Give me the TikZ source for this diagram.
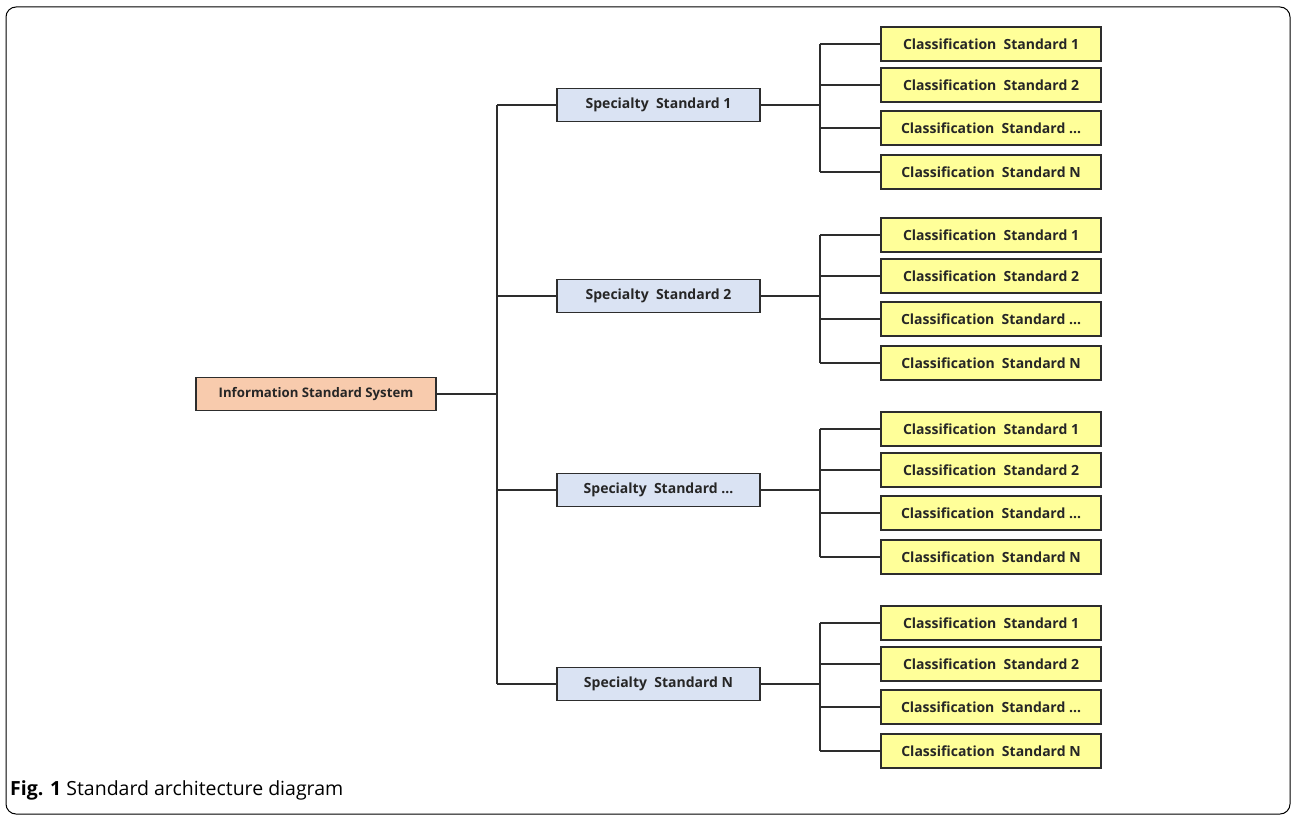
\documentclass[tikz,border=0pt]{standalone}
\usepackage{fontspec}
\setmainfont{Open Sans}
\setsansfont{Open Sans}
\definecolor{peach}{RGB}{248,203,173}
\definecolor{lblue}{RGB}{218,227,243}
\definecolor{lyellow}{RGB}{255,255,153}
\definecolor{edge}{RGB}{45,45,45}
\begin{document}
\begin{tikzpicture}[x=1pt,y=-1pt,
  box/.style={draw=edge,line width=1.3pt,minimum height=33pt,inner sep=0pt,font=\sffamily\bfseries\fontsize{14}{16}\selectfont,text=black!85},
  infobox/.style={box,fill=peach,minimum width=240pt,font=\sffamily\bfseries\fontsize{13.2}{16}\selectfont},
  specbox/.style={box,fill=lblue,minimum width=203pt},
  clsbox/.style={box,fill=lyellow,minimum width=220pt,minimum height=34pt},
  conn/.style={draw=edge,line width=1.2pt}]
\useasboundingbox (0,0) rectangle (1292,816);
\draw[line width=1pt,rounded corners=10pt] (6,7) rectangle (1290,814);

\node[infobox] (info) at (316,394) {Information Standard System};
\coordinate (trunk) at (497,394);
\draw[conn] (info.east) -- (trunk);

\foreach \s/\y/\lab/\ya/\yb/\yc/\yd in {1/105/1/44/85/128/172, 2/296/2/235/276/319/363, 3/490/\ldots/429/470/513/557, 4/684/N/623/664/707/751}{
  \node[specbox] (sp\s) at (658.5,\y) {Specialty\ \ Standard \lab};
  \coordinate (t\s) at (497,\y);
  \draw[conn] (t\s) -- (sp\s.west);
  \coordinate (b\s) at (820,\y);
  \draw[conn] (sp\s.east) -- (b\s);
  \node[clsbox] (c\s a) at (991,\ya) {Classification\ \ Standard 1};
  \node[clsbox] (c\s b) at (991,\yb) {Classification\ \ Standard 2};
  \node[clsbox] (c\s c) at (991,\yc) {Classification\ \ Standard \ldots};
  \node[clsbox] (c\s d) at (991,\yd) {Classification\ \ Standard N};
  \coordinate (u\s a) at (820,\ya);
  \coordinate (u\s b) at (820,\yb);
  \coordinate (u\s c) at (820,\yc);
  \coordinate (u\s d) at (820,\yd);
  \draw[conn] (u\s a) -- (u\s d);
  \foreach \k in {a,b,c,d}{\draw[conn] (u\s\k) -- (c\s\k.west);}
}
\draw[conn] (t1) -- (t4);

\node[anchor=west,inner sep=0pt,font=\sffamily\fontsize{19.5}{22}\selectfont] (cap) at (10,790) {\textbf{Fig. 1} Standard architecture diagram};
\end{tikzpicture}
\end{document}
